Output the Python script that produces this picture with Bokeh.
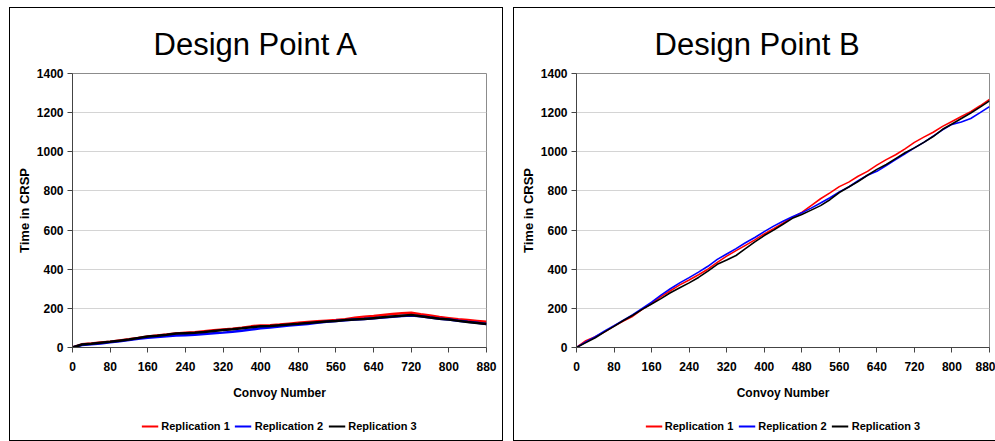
from bokeh.plotting import figure
from bokeh.models import FixedTicker, Legend, LegendItem, Range1d
from bokeh.layouts import row, column
from bokeh.embed import file_html
from bokeh.resources import INLINE

convoy = [0, 20, 40, 60, 80, 100, 120, 140, 160, 180, 200, 220, 240, 260, 280, 300,
          320, 340, 360, 380, 400, 420, 440, 460, 480, 500, 520, 540, 560, 580, 600,
          620, 640, 660, 680, 700, 720, 740, 760, 780, 800, 820, 840, 860, 880]

a_rep1 = [0, 16, 20, 25, 30, 36, 42, 49, 56, 61, 66, 72, 75, 78, 83, 88,
          92, 96, 101, 108, 113, 114, 117, 122, 126, 130, 134, 137, 140, 145, 152,
          157, 161, 166, 171, 175, 178, 170, 163, 156, 150, 144, 140, 136, 132]
a_rep2 = [0, 13, 17, 21, 27, 32, 38, 45, 50, 54, 58, 61, 63, 65, 69, 73,
          76, 80, 86, 92, 98, 102, 107, 112, 116, 120, 126, 131, 136, 139, 143,
          146, 149, 153, 157, 161, 164, 160, 153, 147, 143, 137, 131, 126, 120]
a_rep3 = [0, 15, 19, 24, 29, 35, 41, 48, 56, 60, 65, 71, 73, 75, 79, 84,
          89, 93, 98, 104, 108, 110, 114, 118, 121, 125, 129, 133, 136, 140, 143,
          146, 150, 154, 158, 162, 166, 160, 153, 147, 143, 136, 130, 125, 120]

b_rep1 = [0, 35, 55, 80, 110, 135, 160, 195, 225, 260, 290, 320, 345, 372, 400, 435,
          467, 495, 522, 550, 580, 607, 635, 665, 690, 725, 760, 790, 822, 845, 875,
          900, 932, 960, 985, 1015, 1048, 1075, 1100, 1130, 1155, 1180, 1205, 1235, 1268]
b_rep2 = [0, 28, 55, 85, 112, 140, 168, 200, 232, 268, 300, 330, 357, 385, 415, 450,
          478, 505, 535, 562, 592, 620, 645, 668, 688, 712, 738, 765, 795, 820, 852,
          880, 900, 930, 960, 990, 1020, 1048, 1080, 1112, 1140, 1152, 1170, 1200, 1231]
b_rep3 = [0, 25, 50, 80, 108, 138, 165, 195, 222, 250, 280, 305, 330, 358, 390, 425,
          447, 470, 505, 540, 572, 600, 630, 660, 680, 702, 725, 755, 792, 820, 848,
          880, 910, 935, 965, 995, 1020, 1048, 1078, 1115, 1142, 1170, 1198, 1228, 1260]

x_ticks = [0, 80, 160, 240, 320, 400, 480, 560, 640, 720, 800, 880]
y_ticks = [0, 200, 400, 600, 800, 1000, 1200, 1400]
series_labels = ["Replication 1", "Replication 2", "Replication 3"]
series_colors = ["#ff0000", "#0000ff", "#000000"]
panel_titles = ["Design Point A", "Design Point B"]
x_label = "Convoy Number"
y_label = "Time in CRSP"

FONT = "Liberation Sans"


def make_panel(title, reps, width, mbl, mbr, title_offset, lw, margin, right_border):
    top_css = {"border": "1px solid #000000", "border-bottom": "none",
               "box-sizing": "border-box"}
    bot_css = {"border": "1px solid #000000", "border-top": "none",
               "box-sizing": "border-box"}
    if not right_border:
        top_css["border-right"] = "none"
        bot_css["border-right"] = "none"

    p = figure(width=width, height=404, output_backend="svg", toolbar_location=None,
               x_range=Range1d(0, 880), y_range=Range1d(0, 1400),
               min_border_left=mbl, min_border_right=mbr,
               min_border_top=65, min_border_bottom=65, title=title)
    p.styles = top_css
    p.background_fill_color = "white"
    p.border_fill_color = "white"
    p.outline_line_color = "#8c8c8c"

    p.title.text_font = FONT
    p.title.text_font_style = "normal"
    p.title.text_font_size = "31px"
    p.title.text_color = "#000000"
    p.title.align = "left"
    p.title.offset = title_offset
    p.title.standoff = 23

    p.xgrid.visible = False
    p.ygrid.grid_line_color = "#d4d4d4"

    for ax in (p.xaxis[0], p.yaxis[0]):
        ax.axis_line_color = "#444444"
        ax.major_tick_line_color = "#444444"
        ax.major_tick_in = 0
        ax.major_tick_out = 5
        ax.minor_tick_line_color = None
        ax.major_label_text_font = FONT
        ax.major_label_text_font_style = "bold"
        ax.major_label_text_font_size = "12px"
        ax.major_label_text_color = "#000000"
        ax.axis_label_text_font = FONT
        ax.axis_label_text_font_style = "bold"
        ax.axis_label_text_color = "#000000"

    p.xaxis.ticker = FixedTicker(ticks=x_ticks)
    p.yaxis.ticker = FixedTicker(ticks=y_ticks)
    p.xaxis.major_label_standoff = 9
    p.yaxis.major_label_standoff = 4
    p.xaxis.axis_label = x_label
    p.yaxis.axis_label = y_label
    p.xaxis.axis_label_text_font_size = "12px"
    p.yaxis.axis_label_text_font_size = "13px"
    p.xaxis.axis_label_standoff = 12
    p.yaxis.axis_label_standoff = 2

    for vals, col in zip(reps, series_colors):
        p.line(convoy, vals, line_color=col, line_width=lw)

    # legend strip below the chart, inside the same bordered panel
    lf = figure(width=width, height=30, output_backend="svg", toolbar_location=None,
                x_range=Range1d(2000, 3000), y_range=Range1d(0, 1400),
                min_border_left=mbl, min_border_right=mbr,
                min_border_top=0, min_border_bottom=0,
                x_axis_type=None, y_axis_type=None)
    lf.styles = bot_css
    lf.background_fill_color = "white"
    lf.border_fill_color = "white"
    lf.outline_line_color = None
    lf.grid.visible = False

    items = []
    for vals, lab, col in zip(reps, series_labels, series_colors):
        r = lf.line(convoy, vals, line_color=col, line_width=2)
        items.append(LegendItem(label=lab, renderers=[r]))

    leg = Legend(items=items, orientation="horizontal", location="center",
                 border_line_color=None, background_fill_alpha=0,
                 label_text_font=FONT, label_text_font_style="bold",
                 label_text_font_size="11px", label_text_color="#000000",
                 glyph_width=17, glyph_height=12, label_standoff=3, spacing=5,
                 padding=2, margin=0)
    lf.add_layout(leg, "center")

    return column(p, lf, spacing=0, margin=margin)


c1 = make_panel(panel_titles[0], [a_rep1, a_rep2, a_rep3], 494, 62, 18, 81, 2.5,
                (7, 0, 0, 9), True)
c2 = make_panel(panel_titles[1], [b_rep1, b_rep2, b_rep3], 482, 62, 7, 78, 1.6,
                (7, 0, 0, 10), False)

layout = row(c1, c2, spacing=0)

open("out.html", "w").write(file_html(layout, INLINE))
